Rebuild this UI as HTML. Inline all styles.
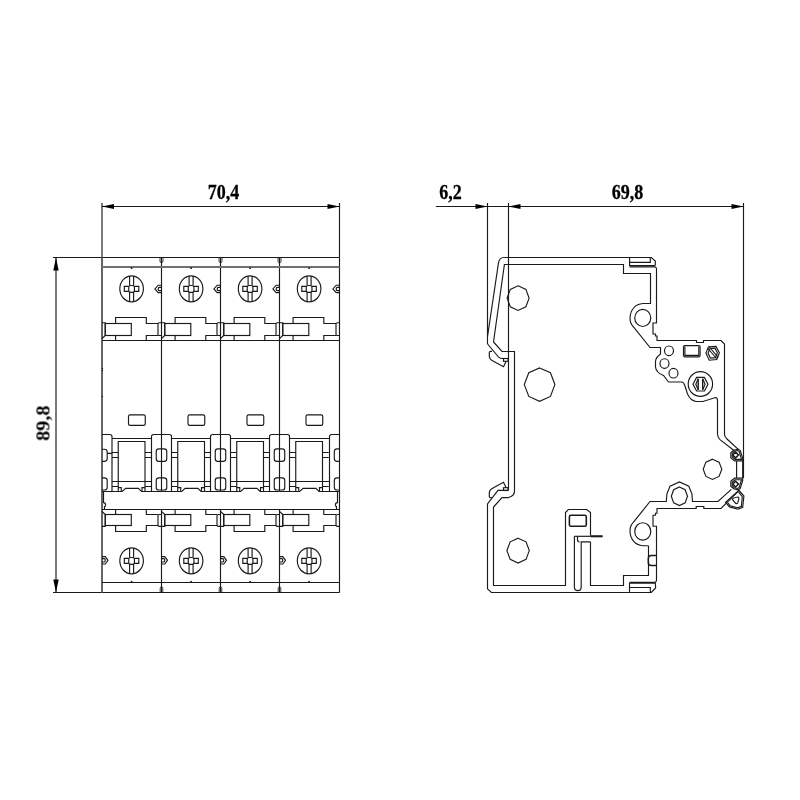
<!DOCTYPE html>
<html><head><meta charset="utf-8"><style>
html,body{margin:0;padding:0;background:#fff;}
body{width:800px;height:800px;overflow:hidden;position:relative;}
svg{position:absolute;left:0;top:0;}
</style></head><body>
<svg width="800" height="800" viewBox="0 0 800 800">
<style>.a{fill:#000;stroke:none}.k{fill:#1a1a1a;stroke:none}</style>
<g fill="none" stroke="#1a1a1a" stroke-width="1.15">
<path d="M102,203V257.5 M339.5,203V257.5 M102,206.5H339.5"/>
<polygon class="a" points="102,206.5 114,203.9 114,209.1"/>
<polygon class="a" points="339.5,206.5 327.5,203.9 327.5,209.1"/>
<path d="M53,257.5H339.5 M53,592.5H339.5 M56,257.5V592.5"/>
<polygon class="a" points="56,257.5 53.3,270.5 58.7,270.5"/>
<polygon class="a" points="56,592.5 53.3,579.5 58.7,579.5"/>
<path d="M102,257.5V592.5" stroke="#666" stroke-width="2"/>
<path d="M339.5,257.5V592.5"/>
<path d="M161.5,257.5V491.5 M161.5,509.5V592.5"/>
<path d="M220.5,257.5V491.5 M220.5,509.5V592.5"/>
<path d="M279.5,257.5V491.5 M279.5,509.5V592.5"/>
<path d="M102,340.5H339.5 M102,509.5H339.5 M102,582.5H339.5"/>
<path d="M102,267H339.5" stroke="#707070" stroke-width="2"/>
<circle class="k" cx="102.4" cy="368.4" r="0.7"/><circle class="k" cx="102.4" cy="370.5" r="0.7"/><circle class="k" cx="102.4" cy="396.5" r="0.7"/>
<circle class="k" cx="131.6" cy="268.2" r="0.9"/>
<circle class="k" cx="131.6" cy="581.6" r="0.9"/>
<ellipse cx="131.6" cy="288.8" rx="11.8" ry="13.0"/>
<path d="M129.6,276V285.5 M133.6,276V285.5 M129.6,292.4V301.61 M133.6,301.61V292.4"/>
<rect x="128.75" y="285.5" width="5.7" height="6.9" rx="2"/>
<path d="M128.75,286.4H124.3V291.4H128.75 M134.45,286.4H138.8V291.4H134.45"/>
<ellipse cx="131.6" cy="560.8" rx="11.8" ry="13.0"/>
<path d="M129.6,548V557.5 M133.6,548V557.5 M129.6,564.4V573.6 M133.6,573.6V564.4"/>
<rect x="128.75" y="557.5" width="5.7" height="6.9" rx="2"/>
<path d="M128.75,558.4H124.3V563.4H128.75 M134.45,558.4H138.8V563.4H134.45"/>
<path d="M115.6,323.5V317.5H146.3V323.5H158 M146.3,340.5V335.5H158 M115.6,335.5V340.5"/>
<rect x="105.25" y="323.5" width="26.05" height="12"/>
<path d="M115.6,525.5V531.5H146.3V525.5H158 M146.3,509.5V514.5H158 M115.6,514.5V509.5"/>
<rect x="105.25" y="514.5" width="26.05" height="11"/>
<rect x="128.5" y="414.8" width="16.75" height="10.6" rx="1.6"/>
<path d="M112,438.5H151.5 M112,481.5H151.5"/>
<path d="M118.25,491.5V441.5H145V491.5"/>
<path d="M112,452.5H118.25 M112,457.5H118.25 M145,452.5H151.25 M145,457.5H151.25"/>
<path d="M112,486.5H118.25 M145,486.5H151.25"/>
<path d="M118.25,487.6H121.25V491.5 M142,491.5V487.6H145"/>
<path d="M102,491.5H122.2L125.6,488.4H138.4L141.6,491.5H161.5"/>
<circle class="k" cx="191.1" cy="268.2" r="0.9"/>
<circle class="k" cx="191.1" cy="581.6" r="0.9"/>
<ellipse cx="191.1" cy="288.8" rx="11.8" ry="13.0"/>
<path d="M189.1,276V285.5 M193.1,276V285.5 M189.1,292.4V301.61 M193.1,301.61V292.4"/>
<rect x="188.25" y="285.5" width="5.7" height="6.9" rx="2"/>
<path d="M188.25,286.4H183.8V291.4H188.25 M193.95,286.4H198.3V291.4H193.95"/>
<ellipse cx="191.1" cy="560.8" rx="11.8" ry="13.0"/>
<path d="M189.1,548V557.5 M193.1,548V557.5 M189.1,564.4V573.6 M193.1,573.6V564.4"/>
<rect x="188.25" y="557.5" width="5.7" height="6.9" rx="2"/>
<path d="M188.25,558.4H183.8V563.4H188.25 M193.95,558.4H198.3V563.4H193.95"/>
<path d="M175.1,323.5V317.5H205.8V323.5H217 M205.8,340.5V335.5H217 M175.1,335.5V340.5"/>
<rect x="164.75" y="323.5" width="26.05" height="12"/>
<path d="M175.1,525.5V531.5H205.8V525.5H217 M205.8,509.5V514.5H217 M175.1,514.5V509.5"/>
<rect x="164.75" y="514.5" width="26.05" height="11"/>
<rect x="188" y="414.8" width="16.75" height="10.6" rx="1.6"/>
<path d="M171.5,438.5H210.5 M171.5,481.5H210.5"/>
<path d="M177.75,491.5V441.5H204.5V491.5"/>
<path d="M171.5,452.5H177.75 M171.5,457.5H177.75 M204.5,452.5H210.75 M204.5,457.5H210.75"/>
<path d="M171.5,486.5H177.75 M204.5,486.5H210.75"/>
<path d="M177.75,487.6H180.75V491.5 M201.5,491.5V487.6H204.5"/>
<path d="M161.5,491.5H181.7L185.1,488.4H197.9L201.1,491.5H220.5"/>
<circle class="k" cx="250.1" cy="268.2" r="0.9"/>
<circle class="k" cx="250.1" cy="581.6" r="0.9"/>
<ellipse cx="250.1" cy="288.8" rx="11.8" ry="13.0"/>
<path d="M248.1,276V285.5 M252.1,276V285.5 M248.1,292.4V301.61 M252.1,301.61V292.4"/>
<rect x="247.25" y="285.5" width="5.7" height="6.9" rx="2"/>
<path d="M247.25,286.4H242.8V291.4H247.25 M252.95,286.4H257.3V291.4H252.95"/>
<ellipse cx="250.1" cy="560.8" rx="11.8" ry="13.0"/>
<path d="M248.1,548V557.5 M252.1,548V557.5 M248.1,564.4V573.6 M252.1,573.6V564.4"/>
<rect x="247.25" y="557.5" width="5.7" height="6.9" rx="2"/>
<path d="M247.25,558.4H242.8V563.4H247.25 M252.95,558.4H257.3V563.4H252.95"/>
<path d="M234.1,323.5V317.5H264.8V323.5H276 M264.8,340.5V335.5H276 M234.1,335.5V340.5"/>
<rect x="223.75" y="323.5" width="26.05" height="12"/>
<path d="M234.1,525.5V531.5H264.8V525.5H276 M264.8,509.5V514.5H276 M234.1,514.5V509.5"/>
<rect x="223.75" y="514.5" width="26.05" height="11"/>
<rect x="247" y="414.8" width="16.75" height="10.6" rx="1.6"/>
<path d="M230.5,438.5H269.5 M230.5,481.5H269.5"/>
<path d="M236.75,491.5V441.5H263.5V491.5"/>
<path d="M230.5,452.5H236.75 M230.5,457.5H236.75 M263.5,452.5H269.75 M263.5,457.5H269.75"/>
<path d="M230.5,486.5H236.75 M263.5,486.5H269.75"/>
<path d="M236.75,487.6H239.75V491.5 M260.5,491.5V487.6H263.5"/>
<path d="M220.5,491.5H240.7L244.1,488.4H256.9L260.1,491.5H279.5"/>
<circle class="k" cx="309.1" cy="268.2" r="0.9"/>
<circle class="k" cx="309.1" cy="581.6" r="0.9"/>
<ellipse cx="309.1" cy="288.8" rx="11.8" ry="13.0"/>
<path d="M307.1,276V285.5 M311.1,276V285.5 M307.1,292.4V301.61 M311.1,301.61V292.4"/>
<rect x="306.25" y="285.5" width="5.7" height="6.9" rx="2"/>
<path d="M306.25,286.4H301.8V291.4H306.25 M311.95,286.4H316.3V291.4H311.95"/>
<ellipse cx="309.1" cy="560.8" rx="11.8" ry="13.0"/>
<path d="M307.1,548V557.5 M311.1,548V557.5 M307.1,564.4V573.6 M311.1,573.6V564.4"/>
<rect x="306.25" y="557.5" width="5.7" height="6.9" rx="2"/>
<path d="M306.25,558.4H301.8V563.4H306.25 M311.95,558.4H316.3V563.4H311.95"/>
<path d="M293.1,323.5V317.5H323.8V323.5H336 M323.8,340.5V335.5H336 M293.1,335.5V340.5"/>
<rect x="282.75" y="323.5" width="26.05" height="12"/>
<path d="M293.1,525.5V531.5H323.8V525.5H336 M323.8,509.5V514.5H336 M293.1,514.5V509.5"/>
<rect x="282.75" y="514.5" width="26.05" height="11"/>
<rect x="306" y="414.8" width="16.75" height="10.6" rx="1.6"/>
<path d="M289.5,438.5H329.5 M289.5,481.5H329.5"/>
<path d="M295.75,491.5V441.5H322.5V491.5"/>
<path d="M289.5,452.5H295.75 M289.5,457.5H295.75 M322.5,452.5H328.75 M322.5,457.5H328.75"/>
<path d="M289.5,486.5H295.75 M322.5,486.5H328.75"/>
<path d="M295.75,487.6H298.75V491.5 M319.5,491.5V487.6H322.5"/>
<path d="M279.5,491.5H299.7L303.1,488.4H315.9L319.1,491.5H339.5"/>
<path d="M102,556.6H105.3L108,560.3L105.3,564H102"/>
<path d="M102,558.65H104.1Q105.3,558.65 105.3,560.3Q105.3,561.95 104.1,561.95H102"/>
<path d="M102,322.7H105.25V335.5L102,338.7"/>
<path d="M102,526.3H105.25V514.5L102,511.3"/>
<path d="M160,257.5V261.1Q160,262.7 161.5,262.7Q163,262.7 163,261.1V257.5" stroke-width="0.85"/>
<path d="M160.2,592.5V588.3Q160.2,586.9 161.5,586.9Q162.8,586.9 162.8,588.3V592.5" stroke-width="0.85"/>
<path d="M151.5,491.5V436.6Q151.5,434.5 153.7,434.5H169.3Q171.5,434.5 171.5,436.6V491.5"/>
<rect x="156.25" y="448.8" width="10.5" height="12.6" rx="2.6"/>
<rect x="156.25" y="477.8" width="10.5" height="12.2" rx="2.6"/>
<path d="M161.5,285.2H158.2L154.9,288.9L158.2,292.6H161.5"/>
<path d="M161.5,287.3H159.4Q158.2,287.3 158.2,288.95Q158.2,290.6 159.4,290.6H161.5"/>
<path d="M161.5,322.7H159.3Q158,322.7 158,324V334.2Q158,335.5 159.3,335.5H161.5"/>
<path d="M161.5,526.3H159.3Q158,526.3 158,525V515.8Q158,514.5 159.3,514.5H161.5"/>
<path d="M161.5,556.6H164.8L167.5,560.3L164.8,564H161.5"/>
<path d="M161.5,558.65H163.6Q164.8,558.65 164.8,560.3Q164.8,561.95 163.6,561.95H161.5"/>
<path d="M161.5,322.7H164.75V335.5L161.5,338.7"/>
<path d="M161.5,526.3H164.75V514.5L161.5,511.3"/>
<path d="M219,257.5V261.1Q219,262.7 220.5,262.7Q222,262.7 222,261.1V257.5" stroke-width="0.85"/>
<path d="M219.2,592.5V588.3Q219.2,586.9 220.5,586.9Q221.8,586.9 221.8,588.3V592.5" stroke-width="0.85"/>
<path d="M210.5,491.5V436.6Q210.5,434.5 212.7,434.5H228.3Q230.5,434.5 230.5,436.6V491.5"/>
<rect x="215.25" y="448.8" width="10.5" height="12.6" rx="2.6"/>
<rect x="215.25" y="477.8" width="10.5" height="12.2" rx="2.6"/>
<path d="M220.5,285.2H217.2L213.9,288.9L217.2,292.6H220.5"/>
<path d="M220.5,287.3H218.4Q217.2,287.3 217.2,288.95Q217.2,290.6 218.4,290.6H220.5"/>
<path d="M220.5,322.7H218.3Q217,322.7 217,324V334.2Q217,335.5 218.3,335.5H220.5"/>
<path d="M220.5,526.3H218.3Q217,526.3 217,525V515.8Q217,514.5 218.3,514.5H220.5"/>
<path d="M220.5,556.6H223.8L226.5,560.3L223.8,564H220.5"/>
<path d="M220.5,558.65H222.6Q223.8,558.65 223.8,560.3Q223.8,561.95 222.6,561.95H220.5"/>
<path d="M220.5,322.7H223.75V335.5L220.5,338.7"/>
<path d="M220.5,526.3H223.75V514.5L220.5,511.3"/>
<path d="M278,257.5V261.1Q278,262.7 279.5,262.7Q281,262.7 281,261.1V257.5" stroke-width="0.85"/>
<path d="M278.2,592.5V588.3Q278.2,586.9 279.5,586.9Q280.8,586.9 280.8,588.3V592.5" stroke-width="0.85"/>
<path d="M269.5,491.5V436.6Q269.5,434.5 271.7,434.5H287.3Q289.5,434.5 289.5,436.6V491.5"/>
<rect x="274.25" y="448.8" width="10.5" height="12.6" rx="2.6"/>
<rect x="274.25" y="477.8" width="10.5" height="12.2" rx="2.6"/>
<path d="M279.5,285.2H276.2L272.9,288.9L276.2,292.6H279.5"/>
<path d="M279.5,287.3H277.4Q276.2,287.3 276.2,288.95Q276.2,290.6 277.4,290.6H279.5"/>
<path d="M279.5,322.7H277.3Q276,322.7 276,324V334.2Q276,335.5 277.3,335.5H279.5"/>
<path d="M279.5,526.3H277.3Q276,526.3 276,525V515.8Q276,514.5 277.3,514.5H279.5"/>
<path d="M279.5,556.6H282.8L285.5,560.3L282.8,564H279.5"/>
<path d="M279.5,558.65H281.6Q282.8,558.65 282.8,560.3Q282.8,561.95 281.6,561.95H279.5"/>
<path d="M279.5,322.7H282.75V335.5L279.5,338.7"/>
<path d="M279.5,526.3H282.75V514.5L279.5,511.3"/>
<path d="M339.5,285.2H336.2L332.9,288.9L336.2,292.6H339.5"/>
<path d="M339.5,287.3H337.4Q336.2,287.3 336.2,288.95Q336.2,290.6 337.4,290.6H339.5"/>
<path d="M339.5,322.7H337.3Q336,322.7 336,324V334.2Q336,335.5 337.3,335.5H339.5"/>
<path d="M339.5,526.3H337.3Q336,526.3 336,525V515.8Q336,514.5 337.3,514.5H339.5"/>
<path d="M102,434.5H109.8Q112,434.5 112,436.6V491.5"/>
<path d="M102,449.2H104.4Q107.2,449.2 107.2,452V458.6Q107.2,461.4 104.4,461.4H102 M107.2,453.4H112"/>
<path d="M102,477.8H104.4Q107.2,477.8 107.2,480.6V487.2Q107.2,490 104.4,490H102"/>
<path d="M339.5,434.5H331.7Q329.5,434.5 329.5,436.6V491.5"/>
<path d="M339.5,448.8H337.1Q334.3,448.8 334.3,451.6V458.6Q334.3,461.4 337.1,461.4H339.5"/>
<path d="M339.5,477.8H337.1Q334.3,477.8 334.3,480.6V487.2Q334.3,490 337.1,490H339.5"/>
<path d="M103.5,491.5V502.6Q105.6,502.8 105.6,504.9Q105.6,506.4 104.5,506.6V509.5"/>
<path d="M337.5,491.5V502.6Q335.4,502.8 335.4,504.9Q335.4,506.4 336.5,506.6V509.5"/>
<path d="M487.5,203V344 M508.5,203V489.5 M743.5,203V478 M435.8,206.5H743.5"/>
<polygon class="a" points="487.5,206.5 475.5,203.9 475.5,209.1"/>
<polygon class="a" points="508.5,206.5 520.5,203.9 520.5,209.1"/>
<polygon class="a" points="743.5,206.5 731.5,203.9 731.5,209.1"/>
<path d="M487.6,336L498.4,263.3Q499.4,257.5 503.6,257.5H651.3L655.3,261.1V265L654.2,265.65H629.6V257.5"/>
<path d="M629.6,262.4H650.3V257.5"/>
<path d="M629.6,266.8H655.2Q656.5,267.6 656.5,269V323H653V334H655.5V336H657V340.5H696.5V342.5H703.5V340.5H721L724.5,344V434.5Q724.8,437 727,439L738,449.2"/>
<path d="M493.5,342L504.4,264.5H623.5V273.5H650.5V303.5H643Q637,304 634,307.5Q630,312 630,318.5Q630,323.5 633.5,327L650,347.5H660.5V354Q655.5,357.5 655.5,361.5V367Q656,372.5 663.5,375.5L668.5,382H682Q684,382.5 685,386L687.5,394Q690.5,400.5 696,401.5H703L715.5,397.5Q717.5,397.8 717.5,400.5V434Q717.6,437.5 720,439.6L733.7,450.2"/>
<path d="M487.6,344L498.5,357Q499.5,358.5 503.6,358.5H508.5"/>
<path d="M493.5,342L502,351.5H514.5V491Q514.4,494.8 511.5,496.3Q509.5,497.6 506,497.6H502L493.5,507V585.5H565.5V512.5L568.3,509.5H586.7L590.5,512.5V535.8"/>
<path d="M492,351.3H490.6Q489.3,351.3 489.3,352.6V356.5Q489.5,359.3 493,361L503.5,366.8L505.8,362V361.3"/>
<rect x="503.5" y="358.5" width="4.6" height="2.8"/>
<path d="M492,497.7H490.6Q489.3,497.7 489.3,496.4V492.5Q489.5,489.7 493,488L503.5,482.2L505.8,487V487.7"/>
<rect x="503.5" y="487.7" width="4.6" height="2.8"/>
<path d="M508.5,489.5Q508,490.3 503.6,490.3H498L487.5,504V588.8L491.3,592.5H629.6"/>
<path d="M590.5,541.9V585.5H623.5V575.5H648.5V545.7"/>
<path d="M574.4,536.3H602.5"/>
<line x1="591" y1="536.3" x2="602.5" y2="536.3" stroke-width="2"/>
<path d="M574.4,536.3V587Q574.4,590.6 577.8,590.6Q581.2,590.6 581.2,587V541.9H590.6 M577.5,536.3V539.5Q577.5,541.9 579.5,541.9"/>
<rect x="569.4" y="515.3" width="16.9" height="11" rx="1.6" stroke-width="1.6"/>
<path d="M629.5,592.5V583.2H655.4L655.6,588L651.3,592.5H629.5 M629.5,587.5H650.3V592.5"/>
<path d="M629.5,582.3H655.2Q656.5,581.6 656.5,580.2V526.2H653V515.2H655.5V513.2H657V508.5H696.2V506.5H703.8V508.5H721L738.4,491.2"/>
<path d="M648.5,545.7H643Q637,545.2 634,541.7Q630,537.2 630,530.7Q630,525.7 633.5,522.2L650,501.5H666.3L666.9,493.8L670,486.3L679.4,481.9L688.8,486.3L691.9,493.8L692.5,501.5H718L731.3,489.3"/>
<path d="M656.3,555.6H651.3Q648.3,555.6 648.3,558.6V562.6Q648.3,565.6 651.3,565.6H656.3" stroke-width="1.5"/>
<polygon points="518.1,285.8 525.88,289.4 529.1,298.1 525.88,306.8 518.1,310.4 510.32,306.8 507.1,298.1 510.32,289.4"/>
<polygon points="539.6,367.9 550.42,372.79 554.9,384.6 550.42,396.41 539.6,401.3 528.78,396.41 524.3,384.6 528.78,372.79"/>
<polygon points="518.1,538.2 526.02,541.83 529.3,550.6 526.02,559.37 518.1,563 510.18,559.37 506.9,550.6 510.18,541.83"/>
<polygon points="712.5,459.2 719.08,462.16 721.8,469.3 719.08,476.44 712.5,479.4 705.92,476.44 703.2,469.3 705.92,462.16"/>
<polygon points="679.4,487 685.13,489.72 687.5,496.3 685.13,502.88 679.4,505.6 673.67,502.88 671.3,496.3 673.67,489.72"/>
<ellipse cx="642.75" cy="317.9" rx="8" ry="8.6"/>
<ellipse cx="642.75" cy="531.4" rx="8" ry="8.7"/>
<ellipse cx="669" cy="350.8" rx="4.5" ry="4.8"/>
<ellipse cx="664.5" cy="363.5" rx="4.5" ry="4.8"/>
<ellipse cx="673.5" cy="373.2" rx="4.5" ry="4.8"/>
<rect x="683.5" y="345.6" width="16.6" height="11.2" rx="1.2"/>
<path d="M684.9,346.6V355.4H698.8V346.6"/>
<path d="M705.9,353.1L708.5,346.75L716,346.4L719.4,352.75L716.75,359.5L709.25,360.25Z"/>
<path d="M708,353.1L710,348.5L715,348.2L717.4,352.8L715.5,357.6L710.4,358.1Z"/>
<path d="M707.75,348.25L716.75,358.75 M709.4,347L718.2,357.3"/>
<ellipse cx="700.4" cy="384" rx="12.2" ry="12.4"/>
<path d="M693,384.2L696.6,377.4H704.4L708,384.2L704.4,391H696.6Z"/>
<path d="M698.2,378.8V389.8 M702.7,378.8V389.8" stroke-width="1.4"/>
<path d="M698.2,378.8L695.8,384.3L698.2,389.8 M702.7,378.8L705.1,384.3L702.7,389.8"/>
<path d="M730.8,457.8L734.6,460.9H742.7V458.7L740.3,450.6L738,449.2L733.7,450.2L730.8,452.8Z"/>
<path d="M732.2,456.8L735,459.3H741.5L739.2,451.6L737.6,450.5L734.2,451.3L732.2,453.4Z"/>
<path d="M735.6,452.1L738.5,455L735.6,457.9L732.7,455Z" stroke-width="1.5"/>
<path d="M736.6,461V478 M742.7,461V478"/>
<path d="M730.8,481.2L734.6,478.1H742.7V480.3L740.3,488.4L738,489.8L733.7,488.8L730.8,486.2Z"/>
<path d="M732.2,482.2L735,479.7H741.5L739.2,487.4L737.6,488.5L734.2,487.7L732.2,485.6Z"/>
<path d="M735.6,481.2L738.5,484.1L735.6,487L732.7,484.1Z" stroke-width="1.5"/>
<path d="M738.9,490.25L743.9,496L742.7,507.4L738,509.25L729.4,506.9L725.6,502.4Z"/>
<path d="M738.6,492.2L742.3,496.6L741.4,506.3L737.6,507.8L730.2,505.7L727.6,502.6"/>
<path d="M732.4,499.3Q733,497.6 738.2,497Q739.8,497.4 737.5,503.2Q736.6,504.2 735.6,503.3Z"/>
</g>
<g font-family="Liberation Serif" font-weight="bold" fill="#000" stroke="#000" stroke-width="0.3" style="will-change:transform">
<text x="0" y="0" font-size="22" text-anchor="middle" transform="translate(223.5 198.9) scale(0.82 1)">70,4</text>
<text x="0" y="0" font-size="22" text-anchor="middle" transform="translate(450.6 198.5) scale(0.82 1)">6,2</text>
<text x="0" y="0" font-size="22" text-anchor="middle" transform="translate(627.5 199) scale(0.82 1)">69,8</text>
<text x="0" y="0" font-size="19" stroke-width="0" text-anchor="middle" transform="translate(49.4 423.2) rotate(-90) scale(1.07 1)">89,8</text>
</g>
</svg>
</body></html>
